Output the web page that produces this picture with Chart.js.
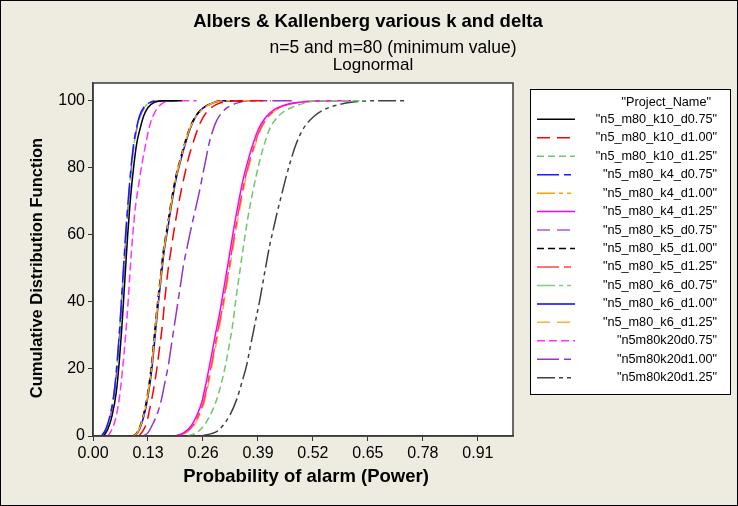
<!DOCTYPE html>
<html><head><meta charset="utf-8">
<script src="https://cdn.jsdelivr.net/npm/chart.js@4/dist/chart.umd.min.js"></script>
<style>html,body{margin:0;padding:0;background:#EEEBE1;}#wrap{width:738px;height:506px;position:relative;}</style>
</head><body><div id="wrap"><canvas id="c" width="738" height="506"></canvas></div>
<script>
// ---- text ----
const titleText = 'Albers & Kallenberg various k and delta';
const subtitleText = 'n=5 and m=80 (minimum value)';
const subtitle2Text = 'Lognormal';
const xAxisTitle = 'Probability of alarm (Power)';
const yAxisTitle = 'Cumulative Distribution Function';
const legendTitle = '"Project_Name"';
const xTickValues = [0.00, 0.13, 0.26, 0.39, 0.52, 0.65, 0.78, 0.91];
const yTickValues = [0, 20, 40, 60, 80, 100];

const seriesNames = [
  '"n5_m80_k10_d0.75"','"n5_m80_k10_d1.00"','"n5_m80_k10_d1.25"',
  '"n5_m80_k4_d0.75"','"n5_m80_k4_d1.00"','"n5_m80_k4_d1.25"',
  '"n5_m80_k5_d0.75"','"n5_m80_k5_d1.00"','"n5_m80_k5_d1.25"',
  '"n5_m80_k6_d0.75"','"n5_m80_k6_d1.00"','"n5_m80_k6_d1.25"',
  '"n5m80k20d0.75"','"n5m80k20d1.00"','"n5m80k20d1.25"'
];
const seriesColors = [
  '#000000','#FF0000','#6CC86C',
  '#1A1AFF','#FFA200','#FF00FF',
  '#A55ED8','#000000','#FF4545',
  '#7ED07E','#0000FF','#FFB040',
  '#FF33FF','#9236C8','#404040'
];
const seriesDashes = [
  [],[13,7],[7,4],
  [22,5,7,5],[18,4,4,4,4,4],[],
  [13,7],[7,4],[22,5,7,5],
  [18,4,4,4,4,4],[],[13,7],
  [8,4],[22,5,7,5],[18,4,4,4,4,4]
];

// ---- values: [probability of alarm, cumulative %] ----
const k10_d075 = [[0.025,0],[0.035,2],[0.045,6],[0.055,13],[0.062,22],[0.068,32],[0.073,42],[0.077,50],[0.082,60],[0.088,70],[0.095,79],[0.103,87],[0.112,92],[0.120,95.5],[0.130,98],[0.145,99.5],[0.165,100],[0.21,100]];
const k10_d100 = [[0.108,0],[0.118,1.5],[0.127,4],[0.134,8],[0.139,11],[0.146,16],[0.152,21],[0.158,27],[0.164,33],[0.170,41],[0.177,49],[0.185,56],[0.195,64],[0.205,71],[0.215,77],[0.226,83],[0.238,88],[0.252,93],[0.268,96.5],[0.29,98.8],[0.32,99.8],[0.35,100],[0.42,100]];
const k10_d125 = [[0.225,0],[0.245,1],[0.262,3],[0.276,6],[0.290,10],[0.302,15],[0.313,21],[0.322,27],[0.330,33],[0.338,41],[0.346,48],[0.355,56],[0.366,65],[0.378,73],[0.392,81],[0.405,87],[0.418,91.7],[0.432,94.5],[0.448,96.5],[0.47,98],[0.50,99.3],[0.53,100],[0.643,100]];
const k4_d075 = [[0.020,0],[0.030,2],[0.040,6],[0.050,13],[0.057,22],[0.063,32],[0.068,42],[0.072,50],[0.077,60],[0.083,70],[0.089,79],[0.096,87],[0.103,92],[0.110,95.5],[0.120,98],[0.135,99.5],[0.155,100],[0.19,100]];
const k4_d100 = [[0.095,0],[0.105,1],[0.115,4],[0.125,9],[0.133,15],[0.139,21],[0.146,30],[0.153,39],[0.160,47],[0.167,55],[0.176,62],[0.186,70],[0.196,77],[0.206,82],[0.217,87],[0.229,91.7],[0.245,95.5],[0.262,97.8],[0.28,99.2],[0.31,100],[0.37,100]];
const k4_d125 = [[0.195,0],[0.215,1],[0.232,3],[0.245,6],[0.257,10],[0.266,15],[0.274,20],[0.283,26],[0.292,32],[0.300,37],[0.308,43],[0.316,49],[0.324,55],[0.333,62],[0.343,69],[0.354,76],[0.366,82],[0.378,87],[0.391,91.5],[0.408,95],[0.430,97.5],[0.46,99],[0.50,99.7],[0.55,100],[0.61,100]];
const k5_d075 = [[0.021,0],[0.031,2],[0.041,6],[0.051,13],[0.058,22],[0.064,32],[0.069,42],[0.073,50],[0.078,60],[0.084,70],[0.090,79],[0.097,87],[0.104,92],[0.112,95.5],[0.122,98],[0.137,99.5],[0.158,100],[0.20,100]];
const k5_d100 = [[0.094,0],[0.104,1],[0.114,4],[0.124,9],[0.132,15],[0.138,21],[0.145,30],[0.152,39],[0.159,47],[0.166,55],[0.175,62],[0.185,70],[0.195,77],[0.205,82],[0.216,87],[0.228,91.7],[0.243,95.5],[0.260,97.8],[0.28,99.2],[0.31,100],[0.36,100]];
const k5_d125 = [[0.198,0],[0.218,1],[0.236,3],[0.249,6],[0.261,10],[0.270,15],[0.278,20],[0.287,26],[0.296,32],[0.304,37],[0.312,43],[0.320,49],[0.328,55],[0.337,62],[0.347,69],[0.358,76],[0.370,82],[0.382,87],[0.395,91.5],[0.412,95],[0.434,97.5],[0.465,99],[0.50,99.7],[0.55,100],[0.615,100]];
const k6_d075 = [[0.021,0],[0.031,2],[0.041,6],[0.050,13],[0.057,22],[0.063,32],[0.068,42],[0.073,50],[0.078,60],[0.084,70],[0.090,79],[0.097,87],[0.104,92],[0.111,95.5],[0.121,98],[0.136,99.5],[0.157,100],[0.20,100]];
const k6_d100 = [[0.096,0],[0.106,1],[0.116,4],[0.126,9],[0.134,15],[0.140,21],[0.147,30],[0.154,39],[0.161,47],[0.168,55],[0.177,62],[0.187,70],[0.197,77],[0.207,82],[0.218,87],[0.230,91.7],[0.244,95.5],[0.26,97.8],[0.28,99.2],[0.30,100],[0.35,100]];
const k6_d125 = [[0.200,0],[0.220,1],[0.238,3],[0.251,6],[0.263,10],[0.272,15],[0.280,20],[0.289,26],[0.298,32],[0.306,37],[0.314,43],[0.322,49],[0.330,55],[0.339,62],[0.349,69],[0.360,76],[0.372,82],[0.384,87],[0.397,91.5],[0.414,95],[0.436,97.5],[0.465,99],[0.50,99.7],[0.55,100],[0.60,100]];
const k20_d075 = [[0.035,0],[0.045,2],[0.055,6],[0.063,12],[0.070,20],[0.077,30],[0.083,40],[0.088,50],[0.094,60],[0.100,68],[0.108,75],[0.117,82],[0.126,88],[0.135,93],[0.148,97],[0.165,99.3],[0.19,100],[0.245,100]];
const k20_d100 = [[0.118,0],[0.130,1],[0.143,4],[0.153,7],[0.162,11],[0.170,16],[0.178,21],[0.184,26],[0.190,31],[0.196,36],[0.202,41],[0.208,46],[0.214,51],[0.222,56],[0.232,62],[0.241,67],[0.250,72],[0.258,77],[0.266,82],[0.274,87],[0.283,91],[0.292,94],[0.305,96.5],[0.318,98],[0.34,99.3],[0.37,100],[0.47,100]];
const k20_d125 = [[0.255,0],[0.28,0.7],[0.295,1.5],[0.308,3.3],[0.324,6.3],[0.340,11],[0.352,16],[0.363,21],[0.371,26],[0.379,31],[0.387,36],[0.395,41],[0.402,46],[0.409,51],[0.418,57],[0.427,62],[0.436,67],[0.446,72],[0.456,77],[0.467,82],[0.480,87],[0.494,91],[0.508,93.5],[0.522,95.3],[0.544,97.2],[0.576,98.7],[0.615,99.6],[0.66,100],[0.737,100]];

const seriesValues = [k10_d075,k10_d100,k10_d125,k4_d075,k4_d100,k4_d125,k5_d075,k5_d100,k5_d125,k6_d075,k6_d100,k6_d125,k20_d075,k20_d100,k20_d125];

const FONT = '"Liberation Sans", Arial, sans-serif';
Chart.defaults.font.family = FONT;
Chart.defaults.color = '#000';

const datasets = seriesValues.map((pts, i) => ({
  label: seriesNames[i],
  data: pts.map(p => ({x: p[0], y: p[1]})),
  borderColor: seriesColors[i],
  backgroundColor: seriesColors[i],
  borderDash: seriesDashes[i],
  borderWidth: 1.5,
  pointRadius: 0,
  fill: false,
  cubicInterpolationMode: 'monotone'
}));

const decor = {
  id: 'decor',
  beforeDraw(chart) {
    const {ctx, chartArea: a, width, height} = chart;
    ctx.save();
    ctx.fillStyle = '#EEEBE1';
    ctx.fillRect(0, 0, width, height);
    ctx.fillStyle = '#FFFFFF';
    ctx.fillRect(a.left, a.top, a.right - a.left, a.bottom - a.top);
    ctx.restore();
  },
  afterDraw(chart) {
    const {ctx, chartArea: a, width, height} = chart;
    ctx.save();
    ctx.strokeStyle = '#3a3a3a';
    ctx.lineWidth = 1.5;
    ctx.strokeRect(a.left, a.top, a.right - a.left, a.bottom - a.top);
    ctx.strokeStyle = '#000';
    ctx.lineWidth = 1;
    ctx.strokeRect(0.5, 0.5, width - 1, height - 1);

    ctx.fillStyle = '#000';
    ctx.textAlign = 'center';
    ctx.textBaseline = 'middle';
    ctx.font = 'bold 18.5px ' + FONT;
    ctx.fillText(titleText, 368, 22);
    ctx.font = '17.5px ' + FONT;
    ctx.fillText(subtitleText, 393, 48);
    ctx.font = '17px ' + FONT;
    ctx.fillText(subtitle2Text, 373, 65);

    ctx.font = 'bold 18.5px ' + FONT;
    ctx.fillText(xAxisTitle, 306, 476.5);
    ctx.save();
    ctx.translate(37, 268);
    ctx.rotate(-Math.PI / 2);
    ctx.font = 'bold 16.5px ' + FONT;
    ctx.fillText(yAxisTitle, 0, 0);
    ctx.restore();

    // legend box
    const lx = 530, ly = 89, lw = 200, lh = 305;
    ctx.fillStyle = '#FFFFFF';
    ctx.fillRect(lx, ly, lw, lh);
    ctx.strokeStyle = '#000';
    ctx.lineWidth = 1;
    ctx.strokeRect(lx + 0.5, ly + 0.5, lw, lh);
    ctx.fillStyle = '#000';
    ctx.font = '12.7px ' + FONT;
    ctx.textAlign = 'right';
    ctx.fillText(legendTitle, 711, 102);
    chart.data.datasets.forEach((ds, i) => {
      const y = 119.3 + i * 18.46;
      ctx.save();
      ctx.strokeStyle = ds.borderColor;
      ctx.lineWidth = 1.5;
      ctx.setLineDash(ds.borderDash);
      ctx.beginPath();
      ctx.moveTo(537, y);
      ctx.lineTo(575, y);
      ctx.stroke();
      ctx.restore();
      ctx.fillText(ds.label, 717, y);
    });
    ctx.restore();
  }
};

new Chart(document.getElementById('c'), {
  type: 'line',
  data: {datasets},
  options: {
    responsive: false,
    animation: false,
    devicePixelRatio: 1,
    layout: {padding: {top: 83, right: 225, left: 0, bottom: 0}},
    plugins: {legend: {display: false}, title: {display: false}, tooltip: {enabled: false}},
    scales: {
      x: {
        type: 'linear', min: 0, max: 0.993,
        afterBuildTicks: s => { s.ticks = xTickValues.map(v => ({value: v})); },
        afterFit: s => { s.height = 70; },
        ticks: {callback: v => Number(v).toFixed(2), font: {size: 16}, color: '#000', padding: 3, maxRotation: 0, autoSkip: false},
        grid: {drawOnChartArea: false, drawTicks: true, tickLength: 5, color: '#333', lineWidth: 1},
        border: {display: true, color: '#3a3a3a', width: 1.5}
      },
      y: {
        type: 'linear', min: 0, max: 105.3,
        afterBuildTicks: s => { s.ticks = yTickValues.map(v => ({value: v})); },
        afterFit: s => { s.width = 93; },
        ticks: {font: {size: 16}, color: '#000', padding: 3, autoSkip: false},
        grid: {drawOnChartArea: false, drawTicks: true, tickLength: 5, color: '#333', lineWidth: 1},
        border: {display: true, color: '#3a3a3a', width: 1.5}
      }
    }
  },
  plugins: [decor]
});
</script>
</body></html>
